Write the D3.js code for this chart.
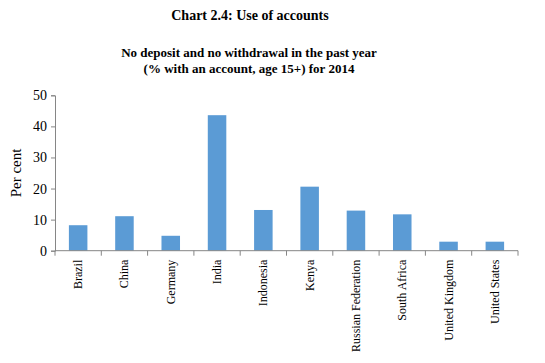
<!DOCTYPE html>
<html><head><meta charset="utf-8">
<script src="https://cdn.jsdelivr.net/npm/d3@7"></script>
<style>body{margin:0;background:#fff}</style>
</head><body>
<svg id="c" width="545" height="363"></svg>
<script>
const categories = ["Brazil","China","Germany","India","Indonesia","Kenya","Russian Federation","South Africa","United Kingdom","United States"];
const values = [8.2, 11.1, 4.8, 43.6, 13.1, 20.6, 12.9, 11.7, 2.9, 2.9];
const yTicks = [0,10,20,30,40,50];
const title = "Chart 2.4: Use of accounts";
const subtitle = ["No deposit and no withdrawal in the past year","(% with an account, age 15+) for 2014"];
const yLabel = "Per cent";

const svg = d3.select("#c");
const m = {left:55, right:518, top:95.3, bottom:250.7};
const x = d3.scaleBand().domain(categories).range([m.left, m.right]).paddingInner(0.6).paddingOuter(0.3);
const y = d3.scaleLinear().domain([0,50]).range([m.bottom, m.top]);
const axisColor = "#868686";
const serif = "'Liberation Serif', 'DejaVu Serif', serif";

svg.append("text").attr("x",250).attr("y",20).attr("text-anchor","middle")
  .attr("font-family",serif).attr("font-weight","bold").attr("font-size",14).text(title);
subtitle.forEach((s,i)=>svg.append("text").attr("x",249).attr("y",57+i*15.5).attr("text-anchor","middle")
  .attr("font-family",serif).attr("font-weight","bold").attr("font-size",13).text(s));

// bars
svg.append("g").selectAll("rect").data(categories).join("rect")
  .attr("x",d=>x(d)).attr("width",x.bandwidth())
  .attr("y",(d,i)=>y(values[i])).attr("height",(d,i)=>y(0)-y(values[i]))
  .attr("fill","#5B9BD5");

// y axis
const ya = svg.append("g").attr("transform",`translate(${m.left},0)`)
  .call(d3.axisLeft(y).tickValues(yTicks).tickSize(4).tickPadding(4));
ya.select(".domain").attr("stroke",axisColor);
ya.selectAll(".tick line").attr("stroke",axisColor);
ya.selectAll(".tick text").attr("font-family",serif).attr("font-size",14).attr("fill","#000");

// x axis with ticks at band boundaries
const xa = svg.append("g").attr("transform",`translate(0,${m.bottom})`);
xa.append("line").attr("x1",m.left).attr("x2",m.right).attr("stroke",axisColor);
const bounds = d3.range(categories.length+1).map(i=>m.left + i*(m.right-m.left)/categories.length);
xa.selectAll("line.t").data(bounds).join("line").attr("class","t")
  .attr("x1",d=>d).attr("x2",d=>d).attr("y1",0).attr("y2",5).attr("stroke",axisColor);
xa.selectAll("text").data(categories).join("text")
  .attr("transform",d=>`translate(${x(d)+x.bandwidth()/2+4},9) rotate(-90)`)
  .attr("text-anchor","end").attr("font-family",serif).attr("font-size",12).attr("fill","#000").text(d=>d);

svg.append("text").attr("transform",`translate(21,${(m.top+m.bottom)/2}) rotate(-90)`)
  .attr("text-anchor","middle").attr("font-family",serif).attr("font-size",15).text(yLabel);
</script>
</body></html>
